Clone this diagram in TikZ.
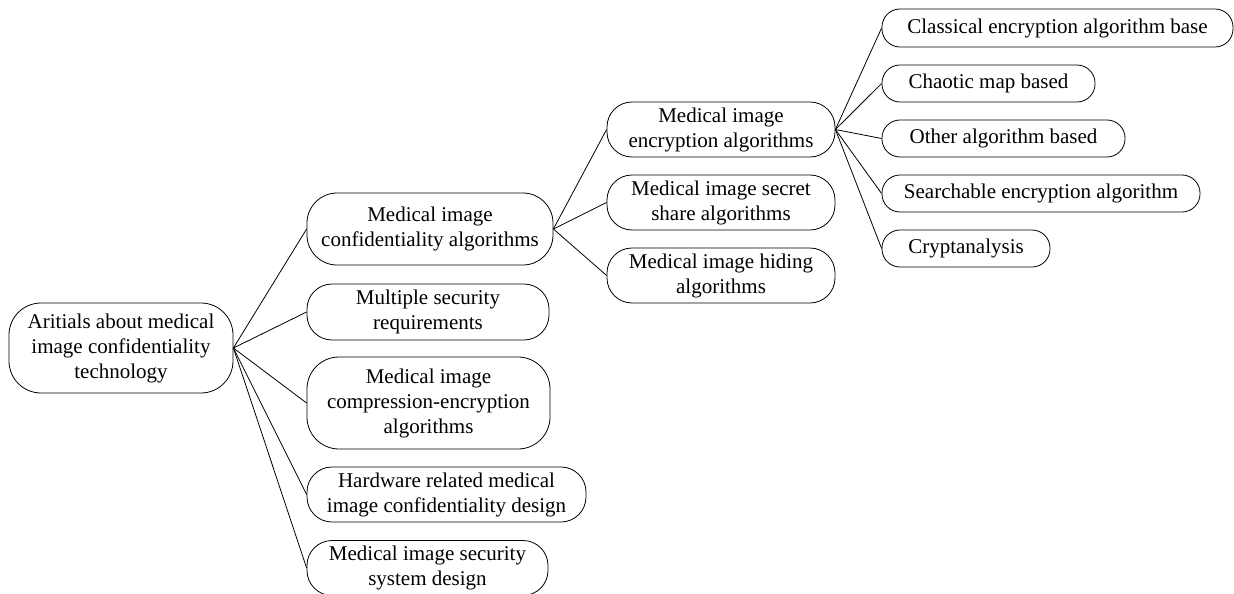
\documentclass[tikz,border=0pt]{standalone}
\usepackage{fontspec}
\setmainfont{Liberation Serif}
\begin{document}
\begin{tikzpicture}[x=1pt,y=-1pt,
  box/.style={draw, line width=0.8pt, inner sep=0pt, align=center,
    font=\fontsize{21}{25}\selectfont},
  leaf/.style={box, minimum height=37pt, rounded corners=18pt},
  mid/.style={box, minimum height=55pt, rounded corners=25pt},
  link/.style={line width=0.8pt}]
\useasboundingbox (0,0) rectangle (1234,594);

% root
\node[box, minimum width=224pt, minimum height=90pt, rounded corners=32pt]
  (root) at (121,348) {Aritials about medical\\image confidentiality\\technology};

% first level
\node[box, minimum width=246pt, minimum height=72pt, rounded corners=30pt]
  (conf) at (430,229) {Medical image\\confidentiality algorithms};
\node[mid, minimum width=242pt, minimum height=56pt]
  (multi) at (428,312) {Multiple security\\requirements};
\node[box, minimum width=243pt, minimum height=92pt, rounded corners=32pt]
  (comp) at (428.5,403) {Medical image\\compression-encryption\\algorithms};
\node[mid, minimum width=279pt]
  (hw) at (446.5,494.5) {Hardware related medical\\image confidentiality design};
\node[mid, minimum width=241pt]
  (sys) at (427.5,568) {Medical image security\\system design};

% second level
\node[mid, minimum width=228pt] (enc) at (721,129.5) {Medical image\\encryption algorithms};
\node[mid, minimum width=228pt] (share) at (721,202.5) {Medical image secret\\share algorithms};
\node[mid, minimum width=228pt] (hide) at (721,275.5) {Medical image hiding\\algorithms};

% third level
\node[leaf, minimum width=351pt, minimum height=38pt] (classic) at (1057.5,28) {Classical encryption algorithm base};
\node[leaf, minimum width=213pt] (chaos) at (988.5,83.5) {Chaotic map based};
\node[leaf, minimum width=243pt] (other) at (1003.5,138.5) {Other algorithm based};
\node[leaf, minimum width=318pt] (search) at (1041,193.5) {Searchable encryption algorithm};
\node[leaf, minimum width=168pt] (crypt) at (966,248.5) {Cryptanalysis};

% connectors
\foreach \t in {conf,multi,comp,hw,sys}
  \draw[link] (root.east) -- (\t.west);
\foreach \t in {enc,share,hide}
  \draw[link] (conf.east) -- (\t.west);
\foreach \t in {classic,chaos,other,search,crypt}
  \draw[link] (enc.east) -- (\t.west);
\end{tikzpicture}
\end{document}
